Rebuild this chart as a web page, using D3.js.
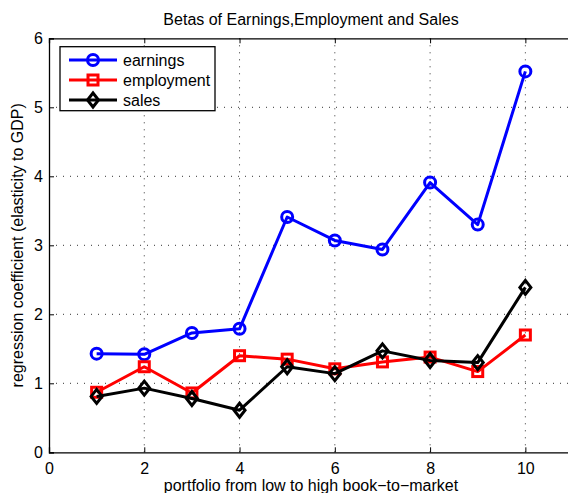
<!DOCTYPE html>
<html><head><meta charset="utf-8">
<script src="https://cdn.jsdelivr.net/npm/d3@7"></script>
<style>body{margin:0;background:#fff;} svg{display:block;font-family:"Liberation Sans",Arial,sans-serif;}</style>
</head><body>
<script>
const portfolios = [1,2,3,4,5,6,7,8,9,10];
const earnings   = [1.43,1.42,1.73,1.79,3.41,3.07,2.94,3.91,3.30,5.52];
const employment = [0.87,1.24,0.86,1.40,1.35,1.21,1.31,1.38,1.17,1.70];
const sales      = [0.81,0.93,0.78,0.61,1.24,1.14,1.47,1.33,1.30,2.39];
const xTicks = [0,2,4,6,8,10];
const yTicks = [0,1,2,3,4,5,6];
const seriesNames = ["earnings","employment","sales"];

const W=568,H=493;
const m={left:49,top:38.3,right:573,bottom:452.3};
const svg=d3.select("body").append("svg").attr("width",W).attr("height",H);
const x=d3.scaleLinear().domain([0,11]).range([m.left,m.right]);
const y=d3.scaleLinear().domain([0,6]).range([m.bottom,m.top]);

// grid
const g=svg.append("g");
g.selectAll(".vg").data(xTicks.filter(d=>d>0)).join("line")
 .attr("x1",d=>x(d)).attr("x2",d=>x(d)).attr("y1",m.top).attr("y2",m.bottom)
 .attr("stroke","#333").attr("stroke-width",1).attr("stroke-dasharray","1,6");
g.selectAll(".hg").data(yTicks.filter(d=>d>0&&d<6)).join("line")
 .attr("y1",d=>y(d)).attr("y2",d=>y(d)).attr("x1",m.left).attr("x2",m.right)
 .attr("stroke","#333").attr("stroke-width",1).attr("stroke-dasharray","1,6");

// axes
const xa=svg.append("g").attr("transform",`translate(0,${m.bottom})`)
 .call(d3.axisBottom(x).tickValues(xTicks).tickSize(-5).tickPadding(10).tickFormat(d3.format("d")));
const xt=svg.append("g").attr("transform",`translate(0,${m.top})`)
 .call(d3.axisTop(x).tickValues(xTicks).tickSize(-5).tickFormat(""));
const ya=svg.append("g").attr("transform",`translate(${m.left},0)`)
 .call(d3.axisLeft(y).tickValues(yTicks).tickSize(-5).tickPadding(6).tickFormat(d3.format("d")));
[xa,xt,ya].forEach(a=>{
  a.select(".domain").attr("stroke","#000").attr("stroke-width",1.3);
  a.selectAll(".tick line").attr("stroke","#000");
  a.selectAll("text").attr("font-size",16).attr("fill","#000").attr("font-family","Liberation Sans, Arial, sans-serif");
});
xa.selectAll(".tick text").attr("dy","0.71em");

// series
const data=[
 {name:"earnings",vals:earnings,color:"#0000ff",marker:"circle"},
 {name:"employment",vals:employment,color:"#ff0000",marker:"square"},
 {name:"sales",vals:sales,color:"#000000",marker:"diamond"}
];
const line=d3.line().x((d,i)=>x(portfolios[i])).y(d=>y(d));
function drawMarker(sel,type,color){
  if(type==="circle"){
    sel.append("circle").attr("r",5.5).attr("fill","none").attr("stroke",color).attr("stroke-width",3);
  } else if(type==="square"){
    sel.append("rect").attr("x",-5).attr("y",-5).attr("width",10).attr("height",10)
      .attr("fill","none").attr("stroke",color).attr("stroke-width",3);
  } else {
    sel.append("path").attr("d","M0,-7L5.5,0L0,7L-5.5,0Z")
      .attr("fill","none").attr("stroke",color).attr("stroke-width",3);
  }
}
data.forEach(s=>{
  svg.append("path").attr("d",line(s.vals)).attr("fill","none")
   .attr("stroke",s.color).attr("stroke-width",3).attr("stroke-linejoin","round");
  svg.selectAll(null).data(s.vals).join("g")
   .attr("transform",(d,i)=>`translate(${x(portfolios[i])},${y(d)})`)
   .each(function(){drawMarker(d3.select(this),s.marker,s.color);});
});

// legend
const lg=svg.append("g");
lg.append("rect").attr("x",60).attr("y",46.7).attr("width",155).attr("height",64)
 .attr("fill","#fff").attr("stroke","#000").attr("stroke-width",1.3);
data.forEach((s,i)=>{
  const yy=60+i*20;
  lg.append("line").attr("x1",69).attr("x2",117).attr("y1",yy).attr("y2",yy)
   .attr("stroke",s.color).attr("stroke-width",3);
  const mg=lg.append("g").attr("transform",`translate(93,${yy})`);
  drawMarker(mg,s.marker,s.color);
  lg.append("text").attr("x",123).attr("y",yy).attr("dy","0.35em")
   .attr("font-size",16).text(seriesNames[i]);
});

// title & labels
svg.append("text").attr("x",(m.left+m.right)/2).attr("y",25).attr("text-anchor","middle")
 .attr("font-size",16).text("Betas of Earnings,Employment and Sales");
svg.append("text").attr("x",(m.left+m.right)/2).attr("y",491).attr("text-anchor","middle")
 .attr("font-size",16).text("portfolio from low to high book\u2212to\u2212market");
svg.append("text").attr("transform",`translate(23,${(m.top+m.bottom)/2}) rotate(-90)`)
 .attr("text-anchor","middle").attr("font-size",16).text("regression coefficient (elasticity to GDP)");
</script>
</body></html>
